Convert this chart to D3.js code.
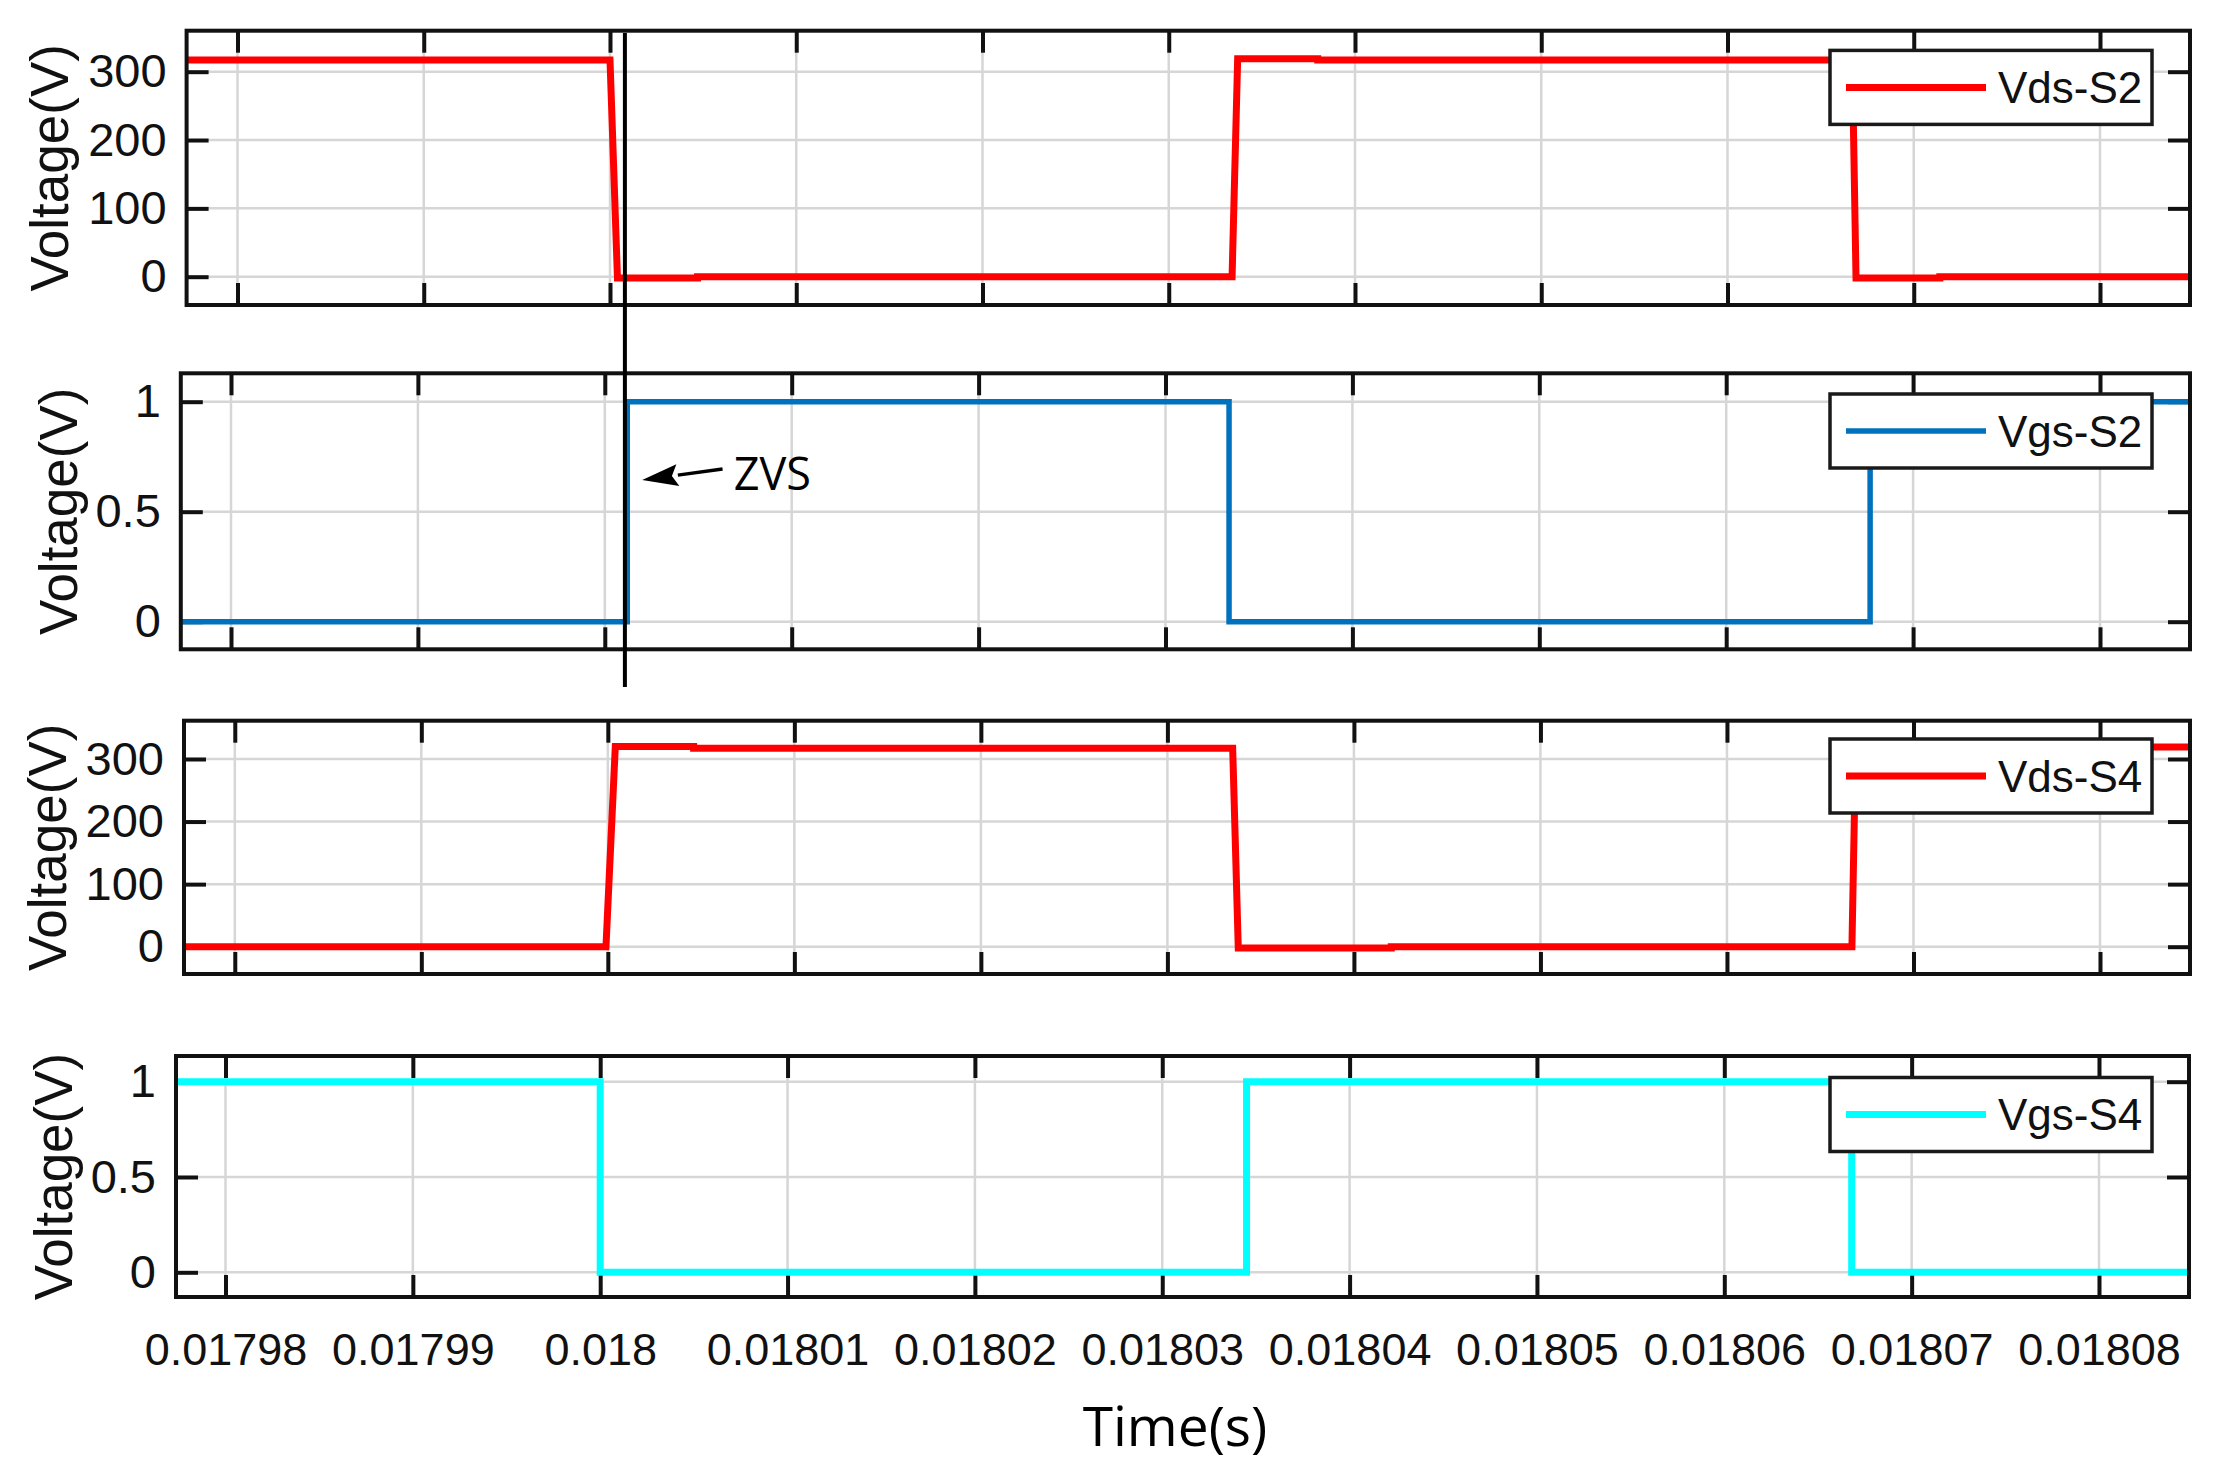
<!DOCTYPE html>
<html><head><meta charset="utf-8">
<script src="https://cdn.jsdelivr.net/npm/d3@7"></script>
<style>body{margin:0;background:#fff}svg{display:block}</style>
</head><body>
<svg id="chart" width="2221" height="1481"></svg>
<script>
// ---------------- data ----------------
const timeTicks = [0.01798,0.01799,0.018,0.01801,0.01802,0.01803,0.01804,0.01805,0.01806,0.01807,0.01808];
const timeTickLabels = ["0.01798","0.01799","0.018","0.01801","0.01802","0.01803","0.01804","0.01805","0.01806","0.01807","0.01808"];
const voltTicks = [0,100,200,300];
const voltTickLabels = ["0","100","200","300"];
const gateTicks = [0,0.5,1];
const gateTickLabels = ["0","0.5","1"];
const seriesNames = ["Vds-S2","Vgs-S2","Vds-S4","Vgs-S4"];
const yLabelText = "Voltage(V)";
const xLabelText = "Time(s)";
const annotationText = "ZVS";

const vdsS2Time = [0.017976,0.0180000,0.0180004,0.0180047,0.0180047,0.0180334,0.0180337,0.018038,0.018038,0.0180667,0.0180669,0.0180714,0.0180714,0.01809];
const vdsS2Volt = [317,317,-2,-2,0,0,319,319,317,317,-2,-2,0,0];

const vgsS2Time = [0.017976,0.0180012,0.0180012,0.0180334,0.0180334,0.0180677,0.0180677,0.01809];
const vgsS2Volt = [0,0,1,1,0,0,1,1];

const vdsS4Time = [0.017976,0.0179999,0.0180004,0.0180046,0.0180046,0.0180335,0.0180338,0.0180420,0.0180420,0.0180667,0.0180669,0.01809];
const vdsS4Volt = [0,0,320,320,317,317,-2,-2,0,0,319,319];

const vgsS4Time = [0.017976,0.0180000,0.0180000,0.0180345,0.0180345,0.0180668,0.0180668,0.01809];
const vgsS4Volt = [1,1,0,0,1,1,0,0];

const zvsTime = 0.0180008;            // marker line
const zvsArrowTip = [0.0180020, 0.644];
const zvsArrowTail = [0.0180063, 0.694];
const zvsTextPos = [0.0180069, 0.60];

// ---------------- layout / style ----------------
const colors = ["#ff0000","#0072bd","#ff0000","#00ffff"];
const lineWidths = [7,5.5,7,7];
const panels = [
  {L:186.6,R:2190,T:30.7,B:305,  xPx:[237.5,2100], yDom:[0,300], yPx:[276.7,71.7],   ylabX:49,   legTop:50.4},
  {L:180.8,R:2190,T:373.3,B:649.3,xPx:[231,2100],  yDom:[0,1],   yPx:[621.7,401.7],  ylabX:58,   legTop:394},
  {L:184,  R:2190,T:720.7,B:974,  xPx:[234.8,2100],yDom:[0,300], yPx:[946.7,759],    ylabX:47,   legTop:739},
  {L:176,  R:2189,T:1056, B:1297, xPx:[225.5,2099],yDom:[0,1],   yPx:[1272.3,1081.7],ylabX:53.5, legTop:1077.5}
];
const series = [
  {t:vdsS2Time, v:vdsS2Volt, ticks:voltTicks, labels:voltTickLabels},
  {t:vgsS2Time, v:vgsS2Volt, ticks:gateTicks, labels:gateTickLabels},
  {t:vdsS4Time, v:vdsS4Volt, ticks:voltTicks, labels:voltTickLabels},
  {t:vgsS4Time, v:vgsS4Volt, ticks:gateTicks, labels:gateTickLabels}
];
const FONT = "'Liberation Sans', Arial, sans-serif";
const svg = d3.select("#chart");
const defs = svg.append("defs");
const scales = [];

panels.forEach((p, i) => {
  const s = series[i];
  const x = d3.scaleLinear().domain([timeTicks[0], timeTicks[timeTicks.length-1]]).range(p.xPx);
  const y = d3.scaleLinear().domain(p.yDom).range(p.yPx);
  scales.push({x, y});
  const g = svg.append("g");

  defs.append("clipPath").attr("id","clip"+i).append("rect")
    .attr("x",p.L).attr("y",p.T).attr("width",p.R-p.L).attr("height",p.B-p.T);

  // grid
  const grid = g.append("g").attr("stroke","#d6d6d6").attr("stroke-width",2.5);
  timeTicks.forEach(t => {
    const xx = x(t);
    if (xx > p.L + 2 && xx < p.R - 2)
      grid.append("line").attr("x1",xx).attr("x2",xx).attr("y1",p.T).attr("y2",p.B);
  });
  s.ticks.forEach(v => {
    grid.append("line").attr("x1",p.L).attr("x2",p.R).attr("y1",y(v)).attr("y2",y(v));
  });

  // axes: inward ticks on all four sides
  const visTicks = timeTicks.filter(t => x(t) > p.L + 2 && x(t) < p.R - 2);
  const bottom = d3.axisBottom(x).tickValues(visTicks).tickSizeInner(-22).tickSizeOuter(0).tickPadding(36)
    .tickFormat(i === 3 ? (d => timeTickLabels[timeTicks.indexOf(d)]) : (() => ""));
  const top = d3.axisTop(x).tickValues(visTicks).tickSizeInner(-22).tickSizeOuter(0).tickFormat(() => "");
  const left = d3.axisLeft(y).tickValues(s.ticks).tickSizeInner(-22).tickSizeOuter(0).tickPadding(20)
    .tickFormat(d => s.labels[s.ticks.indexOf(d)]);
  const right = d3.axisRight(y).tickValues(s.ticks).tickSizeInner(-22).tickSizeOuter(0).tickFormat(() => "");

  const styleAxis = (sel, fs) => {
    sel.select(".domain").remove();
    sel.selectAll(".tick line").attr("stroke","#111").attr("stroke-width",4);
    sel.selectAll("text").attr("fill","#111").style("font-family",FONT).style("font-size",fs+"px");
  };
  g.append("g").attr("transform",`translate(0,${p.B})`).call(bottom).call(styleAxis,45);
  g.append("g").attr("transform",`translate(0,${p.T})`).call(top).call(styleAxis,45);
  g.append("g").attr("transform",`translate(${p.L},0)`).call(left).call(styleAxis,47);
  g.append("g").attr("transform",`translate(${p.R},0)`).call(right).call(styleAxis,45);

  // data line (drawn above ticks, as in the source figure)
  const pts = s.t.map((t, k) => [t, s.v[k]]);
  g.append("path").datum(pts)
    .attr("clip-path","url(#clip"+i+")")
    .attr("fill","none").attr("stroke",colors[i])
    .attr("stroke-width", lineWidths[i]).attr("stroke-linejoin","miter")
    .attr("d", d3.line().x(d => x(d[0])).y(d => y(d[1])));

  // box
  g.append("rect").attr("x",p.L).attr("y",p.T).attr("width",p.R-p.L).attr("height",p.B-p.T)
    .attr("fill","none").attr("stroke","#111").attr("stroke-width",4);

  // y label
  const cy = (p.T + p.B) / 2;
  g.append("text").attr("transform",`translate(${p.ylabX},${cy}) rotate(-90)`)
    .attr("text-anchor","middle").attr("dominant-baseline","central")
    .style("font-family",FONT).style("font-size","53px").attr("fill","#111").text(yLabelText);

  // legend
  const lx = 1830, lw = 322, lh = 74, ly = p.legTop;
  const lg = g.append("g");
  lg.append("rect").attr("x",lx).attr("y",ly).attr("width",lw).attr("height",lh)
    .attr("fill","#fff").attr("stroke","#1a1a1a").attr("stroke-width",3.5);
  lg.append("line").attr("x1",lx+16).attr("x2",lx+156).attr("y1",ly+lh/2).attr("y2",ly+lh/2)
    .attr("stroke",colors[i]).attr("stroke-width",lineWidths[i]);
  lg.append("text").attr("x",lx+168).attr("y",ly+lh/2).attr("dominant-baseline","central")
    .style("font-family",FONT).style("font-size","44px").attr("fill","#111").text(seriesNames[i]);
});

// x label
svg.append("text").attr("x",1175).attr("y",1446).attr("text-anchor","middle")
  .style("font-family","'Open Sans', sans-serif").style("font-size","55px").attr("fill","#000").text(xLabelText);

// ZVS marker line (panel 1 scale)
const zx = scales[0].x(zvsTime);
svg.append("line").attr("x1",zx).attr("x2",zx).attr("y1",33).attr("y2",687)
  .attr("stroke","#000").attr("stroke-width",4);

// ZVS arrow and label (panel 2 scale)
const s2 = scales[1];
const tip = [s2.x(zvsArrowTip[0]), s2.y(zvsArrowTip[1])];
const tail = [s2.x(zvsArrowTail[0]), s2.y(zvsArrowTail[1])];
const ang = Math.atan2(tip[1]-tail[1], tip[0]-tail[0]);
const hl = 36, hw = 11;
const base = [tip[0]-hl*Math.cos(ang), tip[1]-hl*Math.sin(ang)];
svg.append("line").attr("x1",tail[0]).attr("y1",tail[1]).attr("x2",base[0]).attr("y2",base[1])
  .attr("stroke","#000").attr("stroke-width",3.5);
svg.append("path").attr("fill","#000").attr("d",
  `M${tip[0]},${tip[1]} L${base[0]+hw*Math.sin(ang)},${base[1]-hw*Math.cos(ang)} L${base[0]+6*Math.cos(ang)},${base[1]+6*Math.sin(ang)} L${base[0]-hw*Math.sin(ang)},${base[1]+hw*Math.cos(ang)} Z`);
svg.append("text").attr("x",s2.x(zvsTextPos[0])).attr("y",s2.y(zvsTextPos[1]))
  .style("font-family","'Open Sans', sans-serif").style("font-size","45px").attr("fill","#000").text(annotationText);
</script>
</body></html>
